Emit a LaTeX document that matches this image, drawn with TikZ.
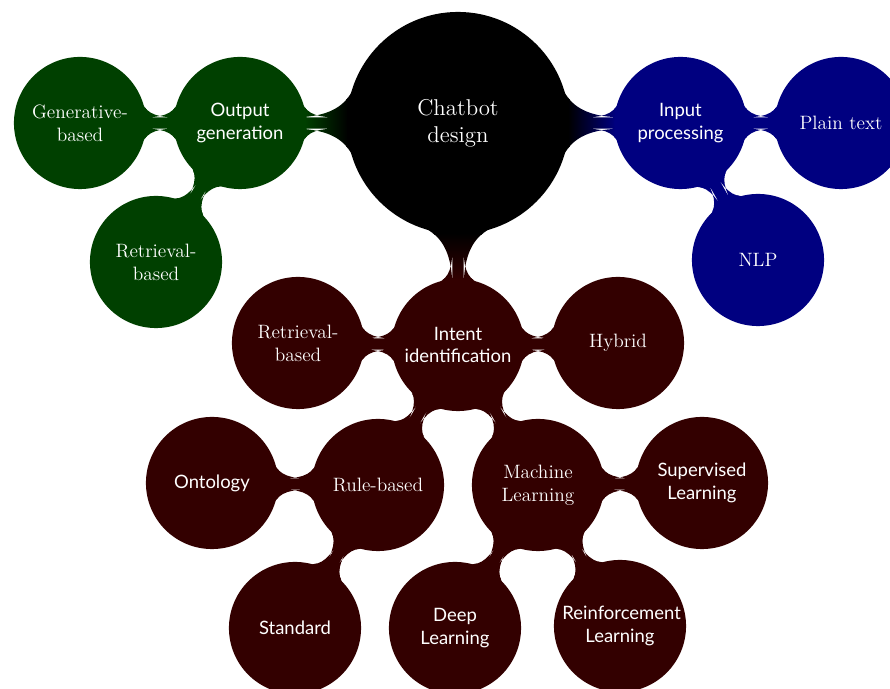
\documentclass[tikz,border=0pt]{standalone}
\usepackage{fontspec}
\usepackage{xcolor}
\usepackage{tikz}
\usetikzlibrary{mindmap, backgrounds}
\newfontfamily\lato{Lato}
\colorlet{outcolor}{green!25!black}
\colorlet{incolor}{blue!50!black}
\colorlet{intcolor}{red!20!black}

\begin{document}
\begin{tikzpicture}[
    mindmap, text=white,
    hub/.style={concept, concept color=black, fill=black, minimum size=4.4cm, text width=3cm, inner sep=0pt, align=center, font=\fontsize{13}{15.5}\selectfont},
    topic/.style={concept, concept color=#1, fill=#1, minimum size=2.6cm, text width=2.3cm, inner sep=0pt, align=center, font=\fontsize{11}{13}\selectfont},
    sans/.style={font=\lato\fontsize{10.5}{13}\selectfont},
    neck/.style 2 args={circle connection bar switch color=from (#1) to (#2)}
]
    \useasboundingbox (-9.16,-11.32) rectangle (8.64,2.46);
    \node[hub] (root) at (0,0) {Chatbot\\design};

    \node[topic=outcolor, sans] (out) at (-4.36,0) {Output\\generation};
    \node[topic=outcolor] (gen) at (-7.56,0) {Generative-\\based};
    \node[topic=outcolor] (retout) at (-6.04,-2.78) {Retrieval-\\based};

    \node[topic=incolor, sans] (in) at (4.45,0) {Input\\processing};
    \node[topic=incolor] (plain) at (7.66,0) {Plain text};
    \node[topic=incolor] (nlp) at (6.0,-2.74) {NLP};

    \node[topic=intcolor, sans] (intent) at (0,-4.44) {Intent\\identification};
    \node[topic=intcolor] (retint) at (-3.2,-4.4) {Retrieval-\\based};
    \node[topic=intcolor] (hybrid) at (3.2,-4.4) {Hybrid};
    \node[topic=intcolor] (rule) at (-1.6,-7.24) {Rule-based};
    \node[topic=intcolor] (ml) at (1.6,-7.24) {Machine\\Learning};
    \node[topic=intcolor, sans] (onto) at (-4.92,-7.2) {Ontology};
    \node[topic=intcolor, sans] (std) at (-3.26,-10.1) {Standard};
    \node[topic=intcolor, sans] (sup) at (4.88,-7.2) {Supervised\\Learning};
    \node[topic=intcolor, sans] (deep) at (-0.06,-10.1) {Deep\\Learning};
    \node[topic=intcolor, sans] (reinf) at (3.24,-10.06) {Reinforcement\\Learning};

    \begin{scope}[on background layer]
        \path (root) to[neck={black}{outcolor}] (out);
        \path (root) to[neck={black}{incolor}] (in);
        \path (root) to[neck={black}{intcolor}] (intent);
        \path (out) to[neck={outcolor}{outcolor}] (gen);
        \path (out) to[neck={outcolor}{outcolor}] (retout);
        \path (in) to[neck={incolor}{incolor}] (plain);
        \path (in) to[neck={incolor}{incolor}] (nlp);
        \path (intent) to[neck={intcolor}{intcolor}] (retint);
        \path (intent) to[neck={intcolor}{intcolor}] (hybrid);
        \path (intent) to[neck={intcolor}{intcolor}] (rule);
        \path (intent) to[neck={intcolor}{intcolor}] (ml);
        \path (rule) to[neck={intcolor}{intcolor}] (onto);
        \path (rule) to[neck={intcolor}{intcolor}] (std);
        \path (ml) to[neck={intcolor}{intcolor}] (sup);
        \path (ml) to[neck={intcolor}{intcolor}] (deep);
        \path (ml) to[neck={intcolor}{intcolor}] (reinf);
    \end{scope}
\end{tikzpicture}
\end{document}
